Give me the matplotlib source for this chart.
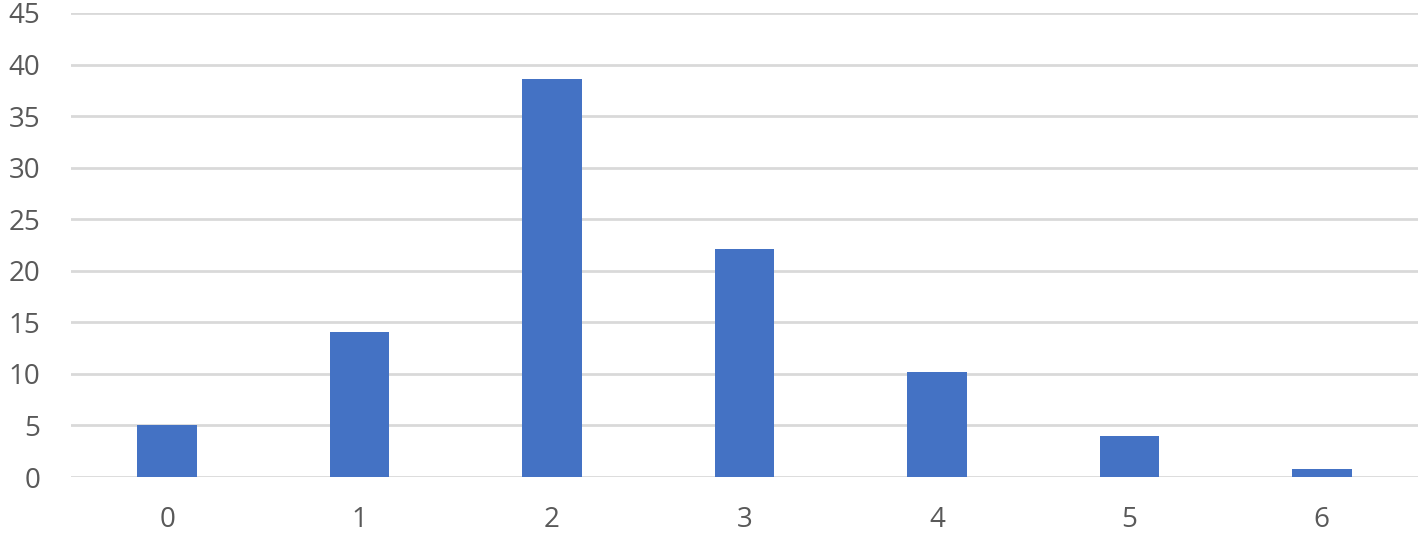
import matplotlib

matplotlib.use("Agg")
import matplotlib.pyplot as plt  # noqa: E402

categories = ["0", "1", "2", "3", "4", "5", "6"]
values = [5.0, 14.1, 38.6, 22.1, 10.2, 4.0, 0.8]
y_ticks = [0, 5, 10, 15, 20, 25, 30, 35, 40, 45]

BAR_COLOR = "#4472C4"
GRID_COLOR = "#D9D9D9"
TEXT_COLOR = "#595959"

plt.rcParams["font.family"] = ["Open Sans", "DejaVu Sans"]

fig = plt.figure(figsize=(14.18, 5.37), dpi=100)
ax = fig.add_axes([0.050, 0.1117, 0.950, 0.8641])

positions = list(range(len(categories)))
ax.bar(positions, values, width=0.31, color=BAR_COLOR, zorder=3)

ax.set_xlim(-0.5, len(categories) - 0.5)
ax.set_ylim(0, 45)
ax.set_xticks(positions)
ax.set_xticklabels(categories)
ax.set_yticks(y_ticks)

ax.grid(True, axis="y", color=GRID_COLOR, linewidth=2.0, zorder=0)
ax.set_axisbelow(True)
for spine in ax.spines.values():
    spine.set_visible(False)

ax.tick_params(axis="both", length=0, labelsize=20, colors=TEXT_COLOR)
ax.tick_params(axis="y", pad=22)
ax.tick_params(axis="x", pad=21)

fig.savefig("out.png", dpi=100)
plt.close(fig)
